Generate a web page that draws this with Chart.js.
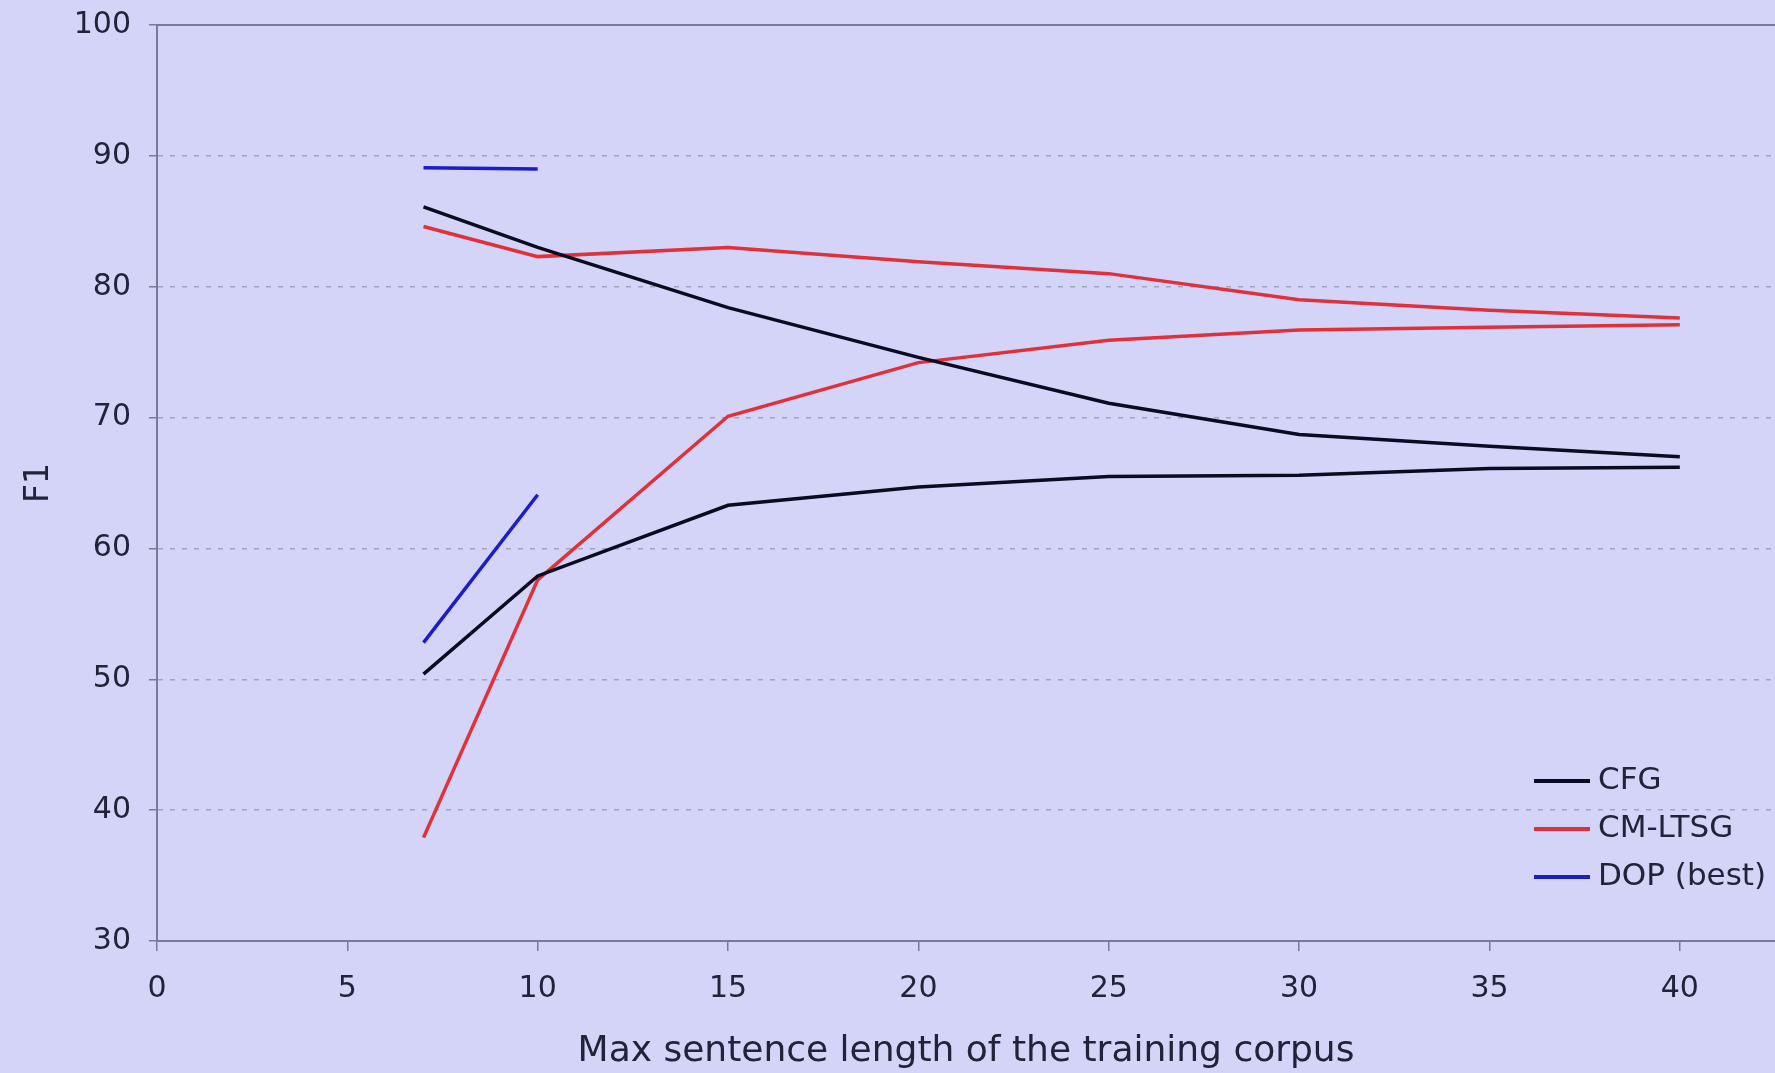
<!DOCTYPE html>
<html lang="en">
<head>
<meta charset="UTF-8">
<title>F1 vs max sentence length</title>
<script src="https://cdn.jsdelivr.net/npm/chart.js@4.4.0/dist/chart.umd.min.js"></script>
<style>
  html, body { margin: 0; padding: 0; background: #d4d4f8; }
  #wrap { width: 1775px; height: 1073px; }
</style>
</head>
<body>
<div id="wrap"><canvas id="f1Chart" width="1775" height="1073"></canvas></div>
<script>
// values
const lengths = [7, 10, 15, 20, 25, 30, 35, 40];
const dopLengths = [7, 10];
const cfgUpper = [86.1, 83.0, 78.4, 74.6, 71.1, 68.7, 67.8, 67.0];
const cfgLower = [50.4, 57.9, 63.3, 64.7, 65.5, 65.6, 66.1, 66.2];
const ltsgUpper = [84.6, 82.3, 83.0, 81.9, 81.0, 79.0, 78.2, 77.6];
const ltsgLower = [37.9, 57.6, 70.1, 74.2, 75.9, 76.7, 76.9, 77.1];
const dopUpper = [89.1, 89.0];
const dopLower = [52.8, 64.1];

const seriesNames = ['CFG', 'CM-LTSG', 'DOP (best)'];
const seriesColors = ['#0a0a20', '#e0303a', '#1c1cc8'];
const xTicks = [0, 5, 10, 15, 20, 25, 30, 35, 40];
const yTicks = [30, 40, 50, 60, 70, 80, 90, 100];

const textColor = '#22223a';
const axisColor = '#7a7a98';
const FONT = 'DejaVu Sans';

function pts(xs, ys) {
    return xs.map((x, i) => ({ x: x, y: ys[i] }));
}
function line(idx, xs, ys, inLegend) {
    return {
        label: seriesNames[idx],
        data: pts(xs, ys),
        borderColor: seriesColors[idx],
        backgroundColor: seriesColors[idx],
        borderWidth: 3.5,
        pointRadius: 0,
        tension: 0,
        showInLegend: inLegend
    };
}

// legend drawn in the lower right of the plot, like the original
const cornerLegend = {
    id: 'cornerLegend',
    afterDraw(chart) {
        const ctx = chart.ctx;
        const area = chart.chartArea;
        const x0 = area.right - 241;
        let y = area.bottom - 160;
        ctx.save();
        ctx.font = '31px "' + FONT + '"';
        ctx.textBaseline = 'middle';
        ctx.textAlign = 'left';
        chart.data.datasets.filter(d => d.showInLegend).forEach(d => {
            ctx.strokeStyle = d.borderColor;
            ctx.lineWidth = 4;
            ctx.beginPath();
            ctx.moveTo(x0, y);
            ctx.lineTo(x0 + 56, y);
            ctx.stroke();
            ctx.fillStyle = textColor;
            ctx.fillText(d.label, x0 + 64, y);
            y += 48;
        });
        ctx.restore();
    }
};

// solid frame line along the top of the plot
const topFrame = {
    id: 'topFrame',
    beforeDatasetsDraw(chart) {
        const ctx = chart.ctx;
        const area = chart.chartArea;
        ctx.save();
        ctx.strokeStyle = axisColor;
        ctx.lineWidth = 2;
        ctx.beginPath();
        ctx.moveTo(area.left, area.top);
        ctx.lineTo(area.right, area.top);
        ctx.stroke();
        ctx.restore();
    }
};

const ctx = document.getElementById('f1Chart').getContext('2d');
new Chart(ctx, {
    type: 'line',
    data: {
        datasets: [
            line(0, lengths, cfgUpper, true),
            line(0, lengths, cfgLower, false),
            line(1, lengths, ltsgUpper, true),
            line(1, lengths, ltsgLower, false),
            line(2, dopLengths, dopUpper, true),
            line(2, dopLengths, dopLower, false)
        ]
    },
    options: {
        responsive: false,
        animation: false,
        layout: { padding: { top: 25, right: 0, left: 0, bottom: 0 } },
        plugins: {
            legend: { display: false },
            tooltip: { enabled: false }
        },
        scales: {
            x: {
                type: 'linear',
                min: 0,
                max: 42.5,
                afterBuildTicks: s => { s.ticks = xTicks.map(v => ({ value: v })); },
                afterFit: s => { s.height = 132; s.paddingRight = 0; },
                grid: { drawOnChartArea: false, tickLength: 10, color: axisColor, lineWidth: 1.5 },
                border: { color: axisColor, width: 2 },
                ticks: { color: textColor, font: { family: FONT, size: 30 }, padding: 20, maxRotation: 0 },
                title: {
                    display: true,
                    text: 'Max sentence length of the training corpus',
                    color: textColor,
                    font: { family: FONT, size: 36 },
                    padding: { top: 0, bottom: 0 }
                }
            },
            y: {
                min: 30,
                max: 100,
                afterBuildTicks: s => { s.ticks = yTicks.map(v => ({ value: v })); },
                afterFit: s => { s.width = 157; s.paddingTop = 0; s.paddingBottom = 0; },
                grid: { color: '#a2a2c0', lineWidth: 1.5, tickLength: 8, tickColor: axisColor, tickBorderDash: [] },
                border: { color: axisColor, width: 2, dash: [5, 7] },
                ticks: { color: textColor, font: { family: FONT, size: 30 }, padding: 18 },
                title: {
                    display: true,
                    text: 'F1',
                    color: textColor,
                    font: { family: FONT, size: 33 },
                    padding: { top: 20, bottom: 0 }
                }
            }
        }
    },
    plugins: [topFrame, cornerLegend]
});
</script>
</body>
</html>
